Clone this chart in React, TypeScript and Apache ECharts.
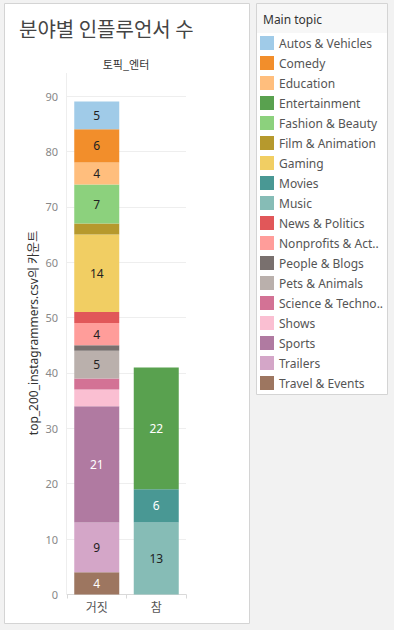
import React, { useEffect, useRef } from "react";
import * as echarts from "echarts";

const categories = ["거짓", "참"];
const topics = [
  "Autos & Vehicles",
  "Comedy",
  "Education",
  "Entertainment",
  "Fashion & Beauty",
  "Film & Animation",
  "Gaming",
  "Movies",
  "Music",
  "News & Politics",
  "Nonprofits & Activism",
  "People & Blogs",
  "Pets & Animals",
  "Science & Technology",
  "Shows",
  "Sports",
  "Trailers",
  "Travel & Events",
];
const falseCounts = [5, 6, 4, 0, 7, 2, 14, 0, 0, 2, 4, 1, 5, 2, 3, 21, 9, 4];
const trueCounts = [0, 0, 0, 22, 0, 0, 0, 6, 13, 0, 0, 0, 0, 0, 0, 0, 0, 0];
const topicColors = [
  "#A0CBE8",
  "#F28E2B",
  "#FFBE7D",
  "#59A14F",
  "#8CD17D",
  "#B6992D",
  "#F1CE63",
  "#499894",
  "#86BCB6",
  "#E15759",
  "#FF9D9A",
  "#79706E",
  "#BAB0AC",
  "#D37295",
  "#FABFD2",
  "#B07AA1",
  "#D4A6C8",
  "#9D7660",
];
const whiteLabelTopics = ["Entertainment", "Movies", "Sports", "Travel & Events"];

const titleText = "분야별 인플루언서 수";
const headerText = "토픽_엔터";
const yAxisTitle = "top_200_instagrammers.csv의 카운트";
const legendTitle = "Main topic";

const FONT = "'Noto Sans', 'Noto Sans CJK KR', sans-serif";
const KFONT = "'Noto Sans CJK KR', 'Noto Sans', sans-serif";

export default function App() {
  const ref = useRef<HTMLDivElement>(null);

  useEffect(() => {
    if (!ref.current) return;
    const chart = echarts.init(ref.current, null, { renderer: "svg" });

    const order = topics.map((_, i) => i).reverse();
    const series = order.map((i) => ({
      name: topics[i],
      type: "bar",
      stack: "total",
      barWidth: 45,
      itemStyle: { color: topicColors[i] },
      label: {
        show: true,
        position: "inside",
        fontSize: 12,
        fontFamily: FONT,
        color: whiteLabelTopics.includes(topics[i]) ? "#ffffff" : "#222222",
        formatter: (p: any) => (p.value >= 4 ? String(p.value) : ""),
      },
      data: [falseCounts[i], trueCounts[i]].map((v) => (v > 0 ? v : "-")),
    }));

    chart.setOption({
      animation: false,
      backgroundColor: "#f2f2f2",
      color: topicColors,
      title: {
        text: titleText,
        left: 14,
        top: 13,
        textStyle: {
          fontSize: 20,
          fontWeight: "normal",
          color: "#444",
          fontFamily: KFONT,
        },
      },
      grid: { left: 67, right: 208, top: 96, bottom: 35.5 },
      xAxis: {
        type: "category",
        data: categories,
        axisLine: { show: true, lineStyle: { color: "#d9d9d9" } },
        axisTick: { show: true, length: 4, lineStyle: { color: "#d9d9d9" } },
        axisLabel: {
          fontSize: 12,
          color: "#555",
          margin: 6,
          fontFamily: KFONT,
        },
      },
      yAxis: {
        type: "value",
        min: 0,
        max: 90,
        interval: 10,
        axisLine: { show: false },
        axisTick: { show: false },
        splitLine: { lineStyle: { color: "#eeeeee" } },
        axisLabel: {
          fontSize: 11,
          color: "#888",
          margin: 9,
          fontFamily: FONT,
          verticalAlign: "middle",
        },
      },
      legend: {
        orient: "vertical",
        left: 255,
        top: 31,
        itemWidth: 14,
        itemHeight: 14,
        itemGap: 6,
        icon: "rect",
        selectedMode: false,
        data: topics,
        formatter: (name: string) =>
          name.length > 17 ? name.slice(0, 16) + ".." : name,
        textStyle: { fontSize: 12, color: "#555", fontFamily: FONT },
      },
      graphic: [
        {
          type: "rect",
          z: -10,
          shape: { x: 4.5, y: 3.5, width: 245, height: 620 },
          style: { fill: "#ffffff", stroke: "#d4d4d4", lineWidth: 1 },
          silent: true,
        },
        {
          type: "rect",
          z: -10,
          shape: { x: 256.5, y: 3.5, width: 131, height: 391 },
          style: { fill: "#ffffff", stroke: "#d4d4d4", lineWidth: 1 },
          silent: true,
        },
        {
          type: "rect",
          z: -9,
          shape: { x: 257, y: 4, width: 130, height: 29 },
          style: { fill: "#f7f7f7" },
          silent: true,
        },
        {
          type: "text",
          z: 5,
          x: 263,
          y: 19,
          style: {
            text: legendTitle,
            fontSize: 12,
            fill: "#333",
            fontFamily: FONT,
            verticalAlign: "middle",
          },
        },
        {
          type: "line",
          z: -5,
          shape: { x1: 66.5, y1: 73, x2: 66.5, y2: 594 },
          style: { stroke: "#eeeeee", lineWidth: 1 },
          silent: true,
        },
        {
          type: "text",
          x: 126,
          y: 64,
          style: {
            text: headerText,
            fontSize: 11,
            fill: "#333",
            fontFamily: KFONT,
            align: "center",
            verticalAlign: "middle",
          },
        },
        {
          type: "text",
          x: 33,
          y: 333,
          rotation: Math.PI / 2,
          style: {
            text: yAxisTitle,
            fontSize: 12,
            fill: "#333",
            fontFamily: FONT,
            align: "center",
            verticalAlign: "middle",
          },
        },
      ],
      series,
    });

    return () => chart.dispose();
  }, []);

  return (
    <div
      ref={ref}
      style={{ position: "fixed", left: 0, top: 0, width: 394, height: 630 }}
    />
  );
}
